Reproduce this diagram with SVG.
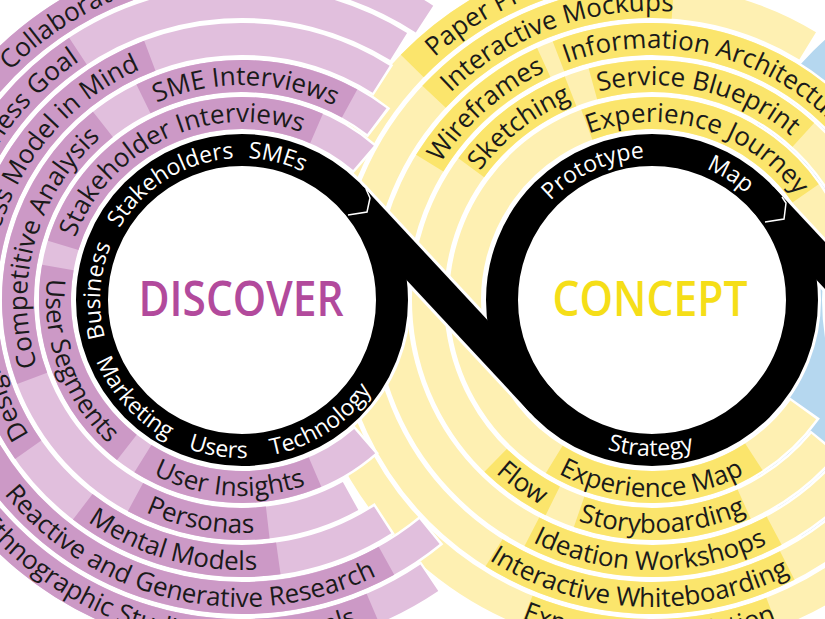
<svg xmlns="http://www.w3.org/2000/svg" width="825" height="619" viewBox="0 0 825 619">
<style>
.o{fill:none;stroke:#fff;stroke-width:37}
.pl{fill:none;stroke:#e1bfdd;stroke-width:32}
.pd{fill:none;stroke:#cc99c6;stroke-width:32}
.yl{fill:none;stroke:#fef0b2;stroke-width:32}
.yd{fill:none;stroke:#fbe56c;stroke-width:32}
.t{font-family:"Open Sans","DejaVu Sans",sans-serif;font-size:26px;fill:#1a1a1a;text-anchor:middle}
.b{font-family:"Open Sans","DejaVu Sans",sans-serif;font-size:23px;fill:#fff;text-anchor:middle}
.bw{fill:none;stroke:#fff;stroke-width:38}
.bk{fill:none;stroke:#000;stroke-width:32}
.ttl{font-family:"Open Sans","DejaVu Sans",sans-serif;font-size:48px;font-weight:600;text-anchor:middle}
</style>
<defs>
<path id="c142" d="M-142,0 A142,142 0 0 1 142,0"/>
<path id="c178" d="M-178,0 A178,178 0 0 1 178,0"/>
<path id="c215" d="M-215,0 A215,215 0 0 1 215,0"/>
<path id="c252" d="M-252,0 A252,252 0 0 1 252,0"/>
<path id="c289" d="M-289,0 A289,289 0 0 1 289,0"/>
<path id="c326" d="M-326,0 A326,326 0 0 1 326,0"/>
<path id="a156" d="M-156,0 A156,156 0 0 0 156,0"/>
<path id="a158" d="M-158,0 A158,158 0 0 0 158,0"/>
<path id="a196" d="M-196,0 A196,196 0 0 0 196,0"/>
<path id="a197" d="M-197,0 A197,197 0 0 0 197,0"/>
<path id="a233" d="M-233,0 A233,233 0 0 0 233,0"/>
<path id="a270" d="M-270,0 A270,270 0 0 0 270,0"/>
<path id="a307" d="M-307,0 A307,307 0 0 0 307,0"/>
<path id="a344" d="M-344,0 A344,344 0 0 0 344,0"/>
</defs>

<g id="deliver">
<circle cx="1062" cy="300" r="296" fill="none" stroke="#b5d7ef" stroke-width="112"/>
</g>

<g id="concept" transform="translate(652,300)">
<circle r="187" pathLength="360" class="o" transform="rotate(35.2)" stroke-dasharray="310.6 360"/>
<circle r="187" pathLength="360" class="yl" transform="rotate(36)" stroke-dasharray="309 360"/>
<circle r="187" pathLength="360" class="yd" transform="rotate(57)" stroke-dasharray="64.5 360"/>
<circle r="187" pathLength="360" class="yd" transform="rotate(249.6)" stroke-dasharray="75.6 360"/>
<circle r="224" pathLength="360" class="o" transform="rotate(39.4)" stroke-dasharray="301.3 360"/>
<circle r="224" pathLength="360" class="yl" transform="rotate(40)" stroke-dasharray="300 360"/>
<circle r="224" pathLength="360" class="yd" transform="rotate(65.7)" stroke-dasharray="43.3 360"/>
<circle r="224" pathLength="360" class="yd" transform="rotate(116.3)" stroke-dasharray="18 360"/>
<circle r="224" pathLength="360" class="yd" transform="rotate(216.2)" stroke-dasharray="32.5 360"/>
<circle r="224" pathLength="360" class="yd" transform="rotate(254.7)" stroke-dasharray="57.8 360"/>
<circle r="261" pathLength="360" class="o" transform="rotate(24.45)" stroke-dasharray="311.1 360"/>
<circle r="261" pathLength="360" class="yl" transform="rotate(25)" stroke-dasharray="310 360"/>
<circle r="261" pathLength="360" class="yd" transform="rotate(62.1)" stroke-dasharray="55.3 360"/>
<circle r="261" pathLength="360" class="yd" transform="rotate(211.6)" stroke-dasharray="33.9 360"/>
<circle r="261" pathLength="360" class="yd" transform="rotate(249)" stroke-dasharray="81 360"/>
<circle r="298" pathLength="360" class="o" transform="rotate(19.5)" stroke-dasharray="282.5 360"/>
<circle r="298" pathLength="360" class="yl" transform="rotate(20)" stroke-dasharray="281.5 360"/>
<circle r="298" pathLength="360" class="yd" transform="rotate(63)" stroke-dasharray="59 360"/>
<circle r="298" pathLength="360" class="yd" transform="rotate(223)" stroke-dasharray="51 360"/>
<circle r="335" pathLength="360" class="o" transform="rotate(19.6)" stroke-dasharray="270.9 360"/>
<circle r="335" pathLength="360" class="yl" transform="rotate(20)" stroke-dasharray="270 360"/>
<circle r="335" pathLength="360" class="yd" transform="rotate(69)" stroke-dasharray="43 360"/>
<circle r="335" pathLength="360" class="yd" transform="rotate(224.3)" stroke-dasharray="45.7 360"/>
<text class="t" transform="rotate(16.7)"><textPath href="#c178" startOffset="50%">Experience Journey</textPath></text>
<text class="t" transform="rotate(322.4)"><textPath href="#c215" startOffset="50%">Sketching</textPath></text>
<text class="t" transform="rotate(13)"><textPath href="#c215" startOffset="50%">Service Blueprint</textPath></text>
<text class="t" transform="rotate(318.9)"><textPath href="#c252" startOffset="50%">Wireframes</textPath></text>
<text class="t" transform="rotate(14.2)"><textPath href="#c252" startOffset="50%">Information Architecture</textPath></text>
<text class="t" transform="rotate(340)"><textPath href="#c289" startOffset="50%">Interactive Mockups</textPath></text>
<text class="t" transform="rotate(336.6)"><textPath href="#c326" startOffset="50%">Paper Prototypes</textPath></text>
<text class="t" transform="rotate(0.2)"><textPath href="#a197" startOffset="50%">Experience Map</textPath></text>
<text class="t" transform="rotate(35.3)"><textPath href="#a233" startOffset="50%">Flow</textPath></text>
<text class="t" transform="rotate(-2.7)"><textPath href="#a233" startOffset="50%">Storyboarding</textPath></text>
<text class="t" transform="rotate(0.5)"><textPath href="#a270" startOffset="50%">Ideation Workshops</textPath></text>
<text class="t" transform="rotate(2.7)"><textPath href="#a307" startOffset="50%">Interactive Whiteboarding</textPath></text>
<text class="t" transform="rotate(0.5)"><textPath href="#a344" startOffset="50%">Experience Validation</textPath></text>
<circle r="134" fill="#fff"/>
</g>

<g id="discover" transform="translate(242,300)">
<circle r="187" pathLength="360" class="o" transform="rotate(48.2)" stroke-dasharray="263.1 360"/>
<circle r="187" pathLength="360" class="pl" transform="rotate(49)" stroke-dasharray="261.5 360"/>
<circle r="187" pathLength="360" class="pd" transform="rotate(67)" stroke-dasharray="55 360"/>
<circle r="187" pathLength="360" class="pd" transform="rotate(128)" stroke-dasharray="62 360"/>
<circle r="187" pathLength="360" class="pd" transform="rotate(197)" stroke-dasharray="96.5 360"/>
<circle r="224" pathLength="360" class="o" transform="rotate(60.4)" stroke-dasharray="247.3 360"/>
<circle r="224" pathLength="360" class="pl" transform="rotate(61)" stroke-dasharray="246 360"/>
<circle r="224" pathLength="360" class="pd" transform="rotate(83.4)" stroke-dasharray="35 360"/>
<circle r="224" pathLength="360" class="pd" transform="rotate(159.5)" stroke-dasharray="72.1 360"/>
<circle r="224" pathLength="360" class="pd" transform="rotate(243.9)" stroke-dasharray="54.8 360"/>
<circle r="261" pathLength="360" class="o" transform="rotate(56.85)" stroke-dasharray="245.9 360"/>
<circle r="261" pathLength="360" class="pl" transform="rotate(57.4)" stroke-dasharray="244.8 360"/>
<circle r="261" pathLength="360" class="pd" transform="rotate(82)" stroke-dasharray="45.6 360"/>
<circle r="261" pathLength="360" class="pd" transform="rotate(145)" stroke-dasharray="27 360"/>
<circle r="261" pathLength="360" class="pd" transform="rotate(178)" stroke-dasharray="71.3 360"/>
<circle r="298" pathLength="360" class="o" transform="rotate(50.5)" stroke-dasharray="251.7 360"/>
<circle r="298" pathLength="360" class="pl" transform="rotate(51)" stroke-dasharray="250.7 360"/>
<circle r="298" pathLength="360" class="pd" transform="rotate(61)" stroke-dasharray="94 360"/>
<circle r="298" pathLength="360" class="pd" transform="rotate(195)" stroke-dasharray="41.6 360"/>
<circle r="335" pathLength="360" class="o" transform="rotate(55.6)" stroke-dasharray="247.9 360"/>
<circle r="335" pathLength="360" class="pl" transform="rotate(56)" stroke-dasharray="247 360"/>
<circle r="335" pathLength="360" class="pd" transform="rotate(67)" stroke-dasharray="83 360"/>
<circle r="335" pathLength="360" class="pd" transform="rotate(215)" stroke-dasharray="40 360"/>
<text class="t" transform="rotate(335)"><textPath href="#c178" startOffset="50%">Stakeholder Interviews</textPath></text>
<text class="t" transform="rotate(285.5)"><textPath href="#c215" startOffset="50%">Competitive Analysis</textPath></text>
<text class="t" transform="rotate(1)"><textPath href="#c215" startOffset="50%">SME Interviews</textPath></text>
<text class="t" transform="rotate(303.5)"><textPath href="#c252" startOffset="50%">Business Model in Mind</textPath></text>
<text class="t" transform="rotate(247)"><textPath href="#c252" startOffset="50%">Design</textPath></text>
<text class="t" transform="rotate(309)"><textPath href="#c289" startOffset="50%">Business Goal</textPath></text>
<text class="t" transform="rotate(329)"><textPath href="#c326" startOffset="50%">Collaboration</textPath></text>
<text class="t" transform="rotate(69.6)"><textPath href="#a196" startOffset="50%">User Segments</textPath></text>
<text class="t" transform="rotate(4)"><textPath href="#a196" startOffset="50%">User Insights</textPath></text>
<text class="t" transform="rotate(10.7)"><textPath href="#a233" startOffset="50%">Personas</textPath></text>
<text class="t" transform="rotate(15.8)"><textPath href="#a270" startOffset="50%">Mental Models</textPath></text>
<text class="t" transform="rotate(12.4)"><textPath href="#a307" startOffset="50%">Reactive and Generative Research</textPath></text>
<text class="t" transform="rotate(15)"><textPath href="#a344" startOffset="50%">Ethnographic Studies and Journals</textPath></text>
<circle r="134" fill="#fff"/>
</g>

<g id="connectors">
<circle cx="242" cy="300" r="150" class="bw"/>
<circle cx="652" cy="300" r="150" class="bw"/>
<line x1="351.7" y1="197.7" x2="542.3" y2="402.3" class="bw"/>
<line x1="761.7" y1="197.7" x2="900" y2="346" class="bw"/>
<circle cx="242" cy="300" r="150" class="bk"/>
<circle cx="652" cy="300" r="150" class="bk"/>
<line x1="351.7" y1="197.7" x2="542.3" y2="402.3" class="bk"/>
<line x1="761.7" y1="197.7" x2="900" y2="346" class="bk"/>
<polyline points="348,215 367,212 370,198 366,189" fill="none" stroke="#fff" stroke-width="1.5"/>
<polyline points="765,222 784,219 786,203 782,197" fill="none" stroke="#fff" stroke-width="1.5"/>
</g>

<g id="discover-labels" transform="translate(242,300)">
<text class="b" transform="rotate(273.7)"><textPath href="#c142" startOffset="50%">Business</textPath></text>
<text class="b" transform="rotate(328.5)"><textPath href="#c142" startOffset="50%">Stakeholders</textPath></text>
<text class="b" transform="rotate(14)"><textPath href="#c142" startOffset="50%">SMEs</textPath></text>
<text class="b" transform="rotate(47.7)"><textPath href="#a158" startOffset="50%">Marketing</textPath></text>
<text class="b" transform="rotate(9)"><textPath href="#a158" startOffset="50%">Users</textPath></text>
<text class="b" transform="rotate(-33)"><textPath href="#a158" startOffset="50%">Technology</textPath></text>
<text class="ttl" x="-1" y="16" fill="#b24a9c" textLength="205" lengthAdjust="spacingAndGlyphs">DISCOVER</text>
</g>

<g id="concept-labels" transform="translate(652,300)">
<text class="b" transform="rotate(335.6)"><textPath href="#c142" startOffset="50%">Prototype</textPath></text>
<text class="b" transform="rotate(32)"><textPath href="#c142" startOffset="50%">Map</textPath></text>
<text class="b" transform="rotate(0.5)"><textPath href="#a156" startOffset="50%">Strategy</textPath></text>
<text class="ttl" x="-2" y="16" fill="#f5de18" textLength="195" lengthAdjust="spacingAndGlyphs">CONCEPT</text>
</g>
</svg>
